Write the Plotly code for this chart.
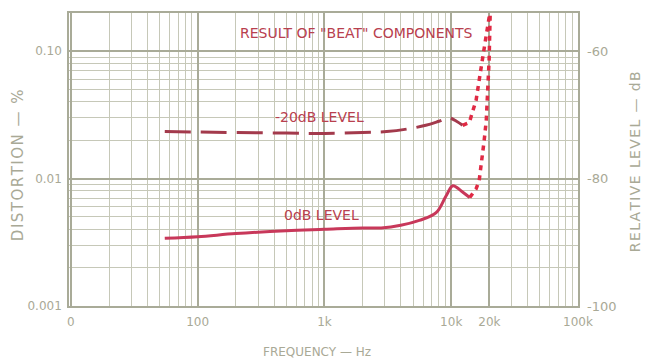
import numpy as np
import plotly.graph_objects as go

# data
freq_0db = [55, 100, 200, 500, 1000, 2000, 2800, 4000, 5600, 7600, 9100, 10300, 12000, 14000]
dist_0db = [0.0034, 0.0035, 0.0037, 0.0039, 0.0040, 0.0041, 0.0041, 0.0043, 0.0047, 0.0054, 0.0073, 0.0088, 0.0080, 0.0071]

freq_20db = [55, 100, 200, 500, 1000, 2000, 3100, 4500, 6300, 8000, 9600, 11000, 12300]
dist_20db = [0.0234, 0.0232, 0.0230, 0.0228, 0.0226, 0.0230, 0.0234, 0.0245, 0.0262, 0.0282, 0.0300, 0.0282, 0.0262]

# "beat" components (dotted)
freq_beat_a = [14000, 15700, 16600, 17500, 18200, 18900, 19200, 19900, 20300]
dist_beat_a = [0.0071, 0.0083, 0.0096, 0.0139, 0.0200, 0.0286, 0.0410, 0.0850, 0.2000]
freq_beat_b = [12300, 13900, 14600, 15700, 16600, 17500, 18900, 20000]
dist_beat_b = [0.0262, 0.0276, 0.0325, 0.0410, 0.0590, 0.0850, 0.1340, 0.1900]

x_tickvals = [10, 100, 1000, 10000, 20000, 100000]
x_ticktext = ["0", "100", "1k", "10k", "20k", "100k"]
y_tickvals = [0.1, 0.01, 0.001]
y_ticktext = ["0.10", "0.01", "0.001"]
db_tickvals = [-60, -80, -100]
db_ticktext = ["-60", "-80", "-100"]

GRID = "#a9ab98"
GRID_MINOR = "#c6c8b8"
TXT = "#a9a996"
FONT = "DejaVu Sans"


def spaced(s):
    # the scanned lettering is loosely tracked, so pad with hair spaces
    return "\u200a".join(s)


x_minor = [m * 10 ** d for d in range(1, 5) for m in range(2, 10)]
y_minor = [m * 10 ** d for d in range(-3, 0) for m in range(2, 10)]

fig = go.Figure()
fig.add_trace(go.Scatter(x=freq_20db, y=dist_20db, mode="lines",
                         line=dict(color="#a33a4c", width=3, dash="26px,10px", shape="spline")))
fig.add_trace(go.Scatter(x=freq_0db, y=dist_0db, mode="lines",
                         line=dict(color="#c8385a", width=3, shape="spline")))
fig.add_trace(go.Scatter(x=freq_beat_a, y=dist_beat_a, mode="lines",
                         line=dict(color="#e02a44", width=3.5, dash="5px,5px")))
fig.add_trace(go.Scatter(x=freq_beat_b, y=dist_beat_b, mode="lines",
                         line=dict(color="#e02a44", width=3.5, dash="5px,5px")))
# invisible trace to carry the right-hand dB axis
fig.add_trace(go.Scatter(x=[10], y=[-80], yaxis="y2", mode="markers",
                         marker=dict(opacity=0), hoverinfo="skip"))

fig.update_layout(
    width=646, height=361,
    margin=dict(l=69, r=68, t=13, b=55),
    paper_bgcolor="white", plot_bgcolor="white",
    showlegend=False,
    font=dict(family=FONT, color=TXT, size=12),
    xaxis=dict(type="log", range=[0.985, 5.0], automargin=False,
               tickvals=x_tickvals, ticktext=x_ticktext, ticklabelstandoff=4,
               showgrid=True, gridcolor=GRID, gridwidth=1.5,
               minor=dict(tickvals=x_minor, showgrid=True, gridcolor=GRID_MINOR, gridwidth=1),
               showline=True, linecolor=GRID, linewidth=1.5, mirror=True,
               ticks="", zeroline=False),
    yaxis=dict(type="log", range=[-3.0, -0.70], automargin=False,
               tickvals=y_tickvals, ticktext=y_ticktext, ticklabelstandoff=3,
               showgrid=True, gridcolor=GRID, gridwidth=1.5,
               minor=dict(tickvals=y_minor, showgrid=True, gridcolor=GRID_MINOR, gridwidth=1),
               showline=True, linecolor=GRID, linewidth=1.5, mirror=True,
               ticks="", zeroline=False),
    yaxis2=dict(overlaying="y", side="right", range=[-100, -54], automargin=False,
                tickvals=db_tickvals, ticktext=db_ticktext, ticklabelstandoff=8,
                tickfont=dict(size=13),
                showgrid=False, zeroline=False, ticks=""),
)

# axis titles
fig.add_annotation(x=-0.100, y=0.481, xref="paper", yref="paper", text=spaced("DISTORTION — %"),
                   xanchor="center", yanchor="middle",
                   textangle=-90, showarrow=False, font=dict(family=FONT, size=15, color=TXT))
fig.add_annotation(x=1.112, y=0.491, xref="paper", yref="paper", text=spaced("RELATIVE LEVEL — dB"),
                   xanchor="center", yanchor="middle",
                   textangle=-90, showarrow=False, font=dict(family=FONT, size=14, color=TXT))
fig.add_annotation(x=0.487, y=-0.157, xref="paper", yref="paper", text="FREQUENCY — Hz",
                   xanchor="center", yanchor="middle",
                   showarrow=False, font=dict(family=FONT, size=12, color=TXT))

# curve labels
lab = dict(family=FONT, size=14, color="#b8404e")
fig.add_annotation(x=3.252, y=-0.858, xref="x", yref="y", text='RESULT OF "BEAT" COMPONENTS',
                   showarrow=False, font=lab)
fig.add_annotation(x=2.96, y=-1.52, xref="x", yref="y", text="-20dB LEVEL",
                   showarrow=False, font=lab)
fig.add_annotation(x=2.98, y=-2.283, xref="x", yref="y", text="0dB LEVEL",
                   showarrow=False, font=lab)

# drop the browser's default body margin so the figure fills the window exactly
fig.write_html("out.html", config={"displayModeBar": False},
               post_script="document.body.style.margin='0';document.body.style.overflow='hidden';")
